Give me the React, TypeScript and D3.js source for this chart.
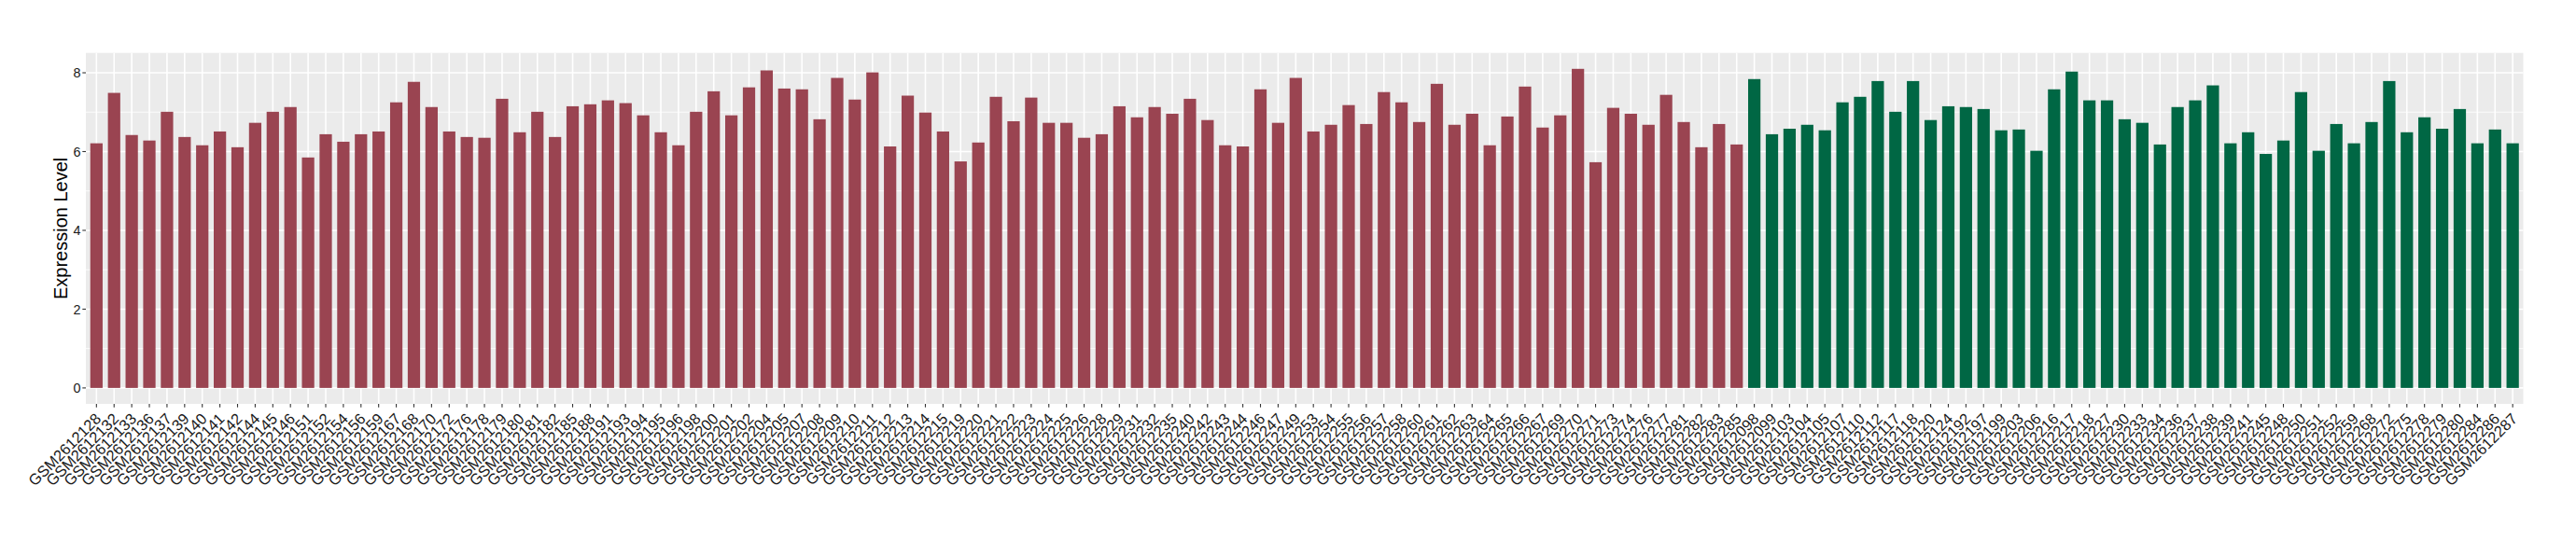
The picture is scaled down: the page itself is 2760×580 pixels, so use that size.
import React from 'react';
import * as d3 from 'd3';

const redSamples = [
  'GSM2612128','GSM2612132','GSM2612133','GSM2612136','GSM2612137','GSM2612139','GSM2612140','GSM2612141','GSM2612142','GSM2612144',
  'GSM2612145','GSM2612146','GSM2612151','GSM2612152','GSM2612154','GSM2612156','GSM2612159','GSM2612167','GSM2612168','GSM2612170',
  'GSM2612172','GSM2612176','GSM2612178','GSM2612179','GSM2612180','GSM2612181','GSM2612182','GSM2612185','GSM2612188','GSM2612191',
  'GSM2612193','GSM2612194','GSM2612195','GSM2612196','GSM2612198','GSM2612200','GSM2612201','GSM2612202','GSM2612204','GSM2612205',
  'GSM2612207','GSM2612208','GSM2612209','GSM2612210','GSM2612211','GSM2612212','GSM2612213','GSM2612214','GSM2612215','GSM2612219',
  'GSM2612220','GSM2612221','GSM2612222','GSM2612223','GSM2612224','GSM2612225','GSM2612226','GSM2612228','GSM2612229','GSM2612231',
  'GSM2612232','GSM2612235','GSM2612240','GSM2612242','GSM2612243','GSM2612244','GSM2612246','GSM2612247','GSM2612249','GSM2612253',
  'GSM2612254','GSM2612255','GSM2612256','GSM2612257','GSM2612258','GSM2612260','GSM2612261','GSM2612262','GSM2612263','GSM2612264',
  'GSM2612265','GSM2612266','GSM2612267','GSM2612269','GSM2612270','GSM2612271','GSM2612273','GSM2612274','GSM2612276','GSM2612277',
  'GSM2612281','GSM2612282','GSM2612283','GSM2612285',
];

const redValues = [
  6.21, 7.49, 6.42, 6.28, 7.01, 6.37, 6.16, 6.51, 6.11, 6.73,
  7.01, 7.13, 5.85, 6.44, 6.25, 6.44, 6.51, 7.25, 7.77, 7.13,
  6.51, 6.37, 6.35, 7.34, 6.49, 7.01, 6.37, 7.15, 7.20, 7.30,
  7.23, 6.92, 6.49, 6.16, 7.01, 7.53, 6.92, 7.63, 8.06, 7.60,
  7.58, 6.82, 7.87, 7.32, 8.01, 6.13, 7.42, 6.99, 6.51, 5.75,
  6.23, 7.39, 6.77, 7.37, 6.73, 6.73, 6.35, 6.44, 7.15, 6.87,
  7.13, 6.96, 7.34, 6.80, 6.16, 6.13, 7.58, 6.73, 7.87, 6.51,
  6.68, 7.18, 6.70, 7.51, 7.25, 6.75, 7.72, 6.68, 6.96, 6.16,
  6.89, 7.65, 6.61, 6.92, 8.10, 5.73, 7.11, 6.96, 6.68, 7.44,
  6.75, 6.11, 6.70, 6.18,
];

const greenSamples = [
  'GSM2612098','GSM2612099','GSM2612103','GSM2612104','GSM2612105','GSM2612107','GSM2612110','GSM2612112','GSM2612117','GSM2612118',
  'GSM2612120','GSM2612124','GSM2612192','GSM2612197','GSM2612199','GSM2612203','GSM2612206','GSM2612216','GSM2612217','GSM2612218',
  'GSM2612227','GSM2612230','GSM2612233','GSM2612234','GSM2612236','GSM2612237','GSM2612238','GSM2612239','GSM2612241','GSM2612245',
  'GSM2612248','GSM2612250','GSM2612251','GSM2612252','GSM2612259','GSM2612268','GSM2612272','GSM2612275','GSM2612278','GSM2612279',
  'GSM2612280','GSM2612284','GSM2612286','GSM2612287',
];

const greenValues = [
  7.84, 6.44, 6.58, 6.68, 6.54, 7.25, 7.39, 7.79, 7.01, 7.79,
  6.80, 7.15, 7.13, 7.08, 6.54, 6.56, 6.02, 7.58, 8.03, 7.30,
  7.30, 6.82, 6.73, 6.18, 7.13, 7.30, 7.68, 6.21, 6.49, 5.94,
  6.28, 7.51, 6.02, 6.70, 6.21, 6.75, 7.79, 6.49, 6.87, 6.58,
  7.08, 6.21, 6.56, 6.21,
];

const yTicks = [0, 2, 4, 6, 8];
const yMinor = [1, 3, 5, 7];

const RED = '#9A4451';
const GREEN = '#006744';

export default function App() {
  const W = 2760;
  const H = 580;
  const left = 92;
  const right = 2703.5;
  const top = 56.7;
  const bottom = 433;

  const data = [
    ...redSamples.map((s, i) => ({ sample: s, value: redValues[i], color: RED })),
    ...greenSamples.map((s, i) => ({ sample: s, value: greenValues[i], color: GREEN })),
  ];

  const x = d3.scalePoint<string>().domain(data.map((d) => d.sample)).range([left, right]).padding(0.6);
  const step = x.step();
  const barW = step * 0.7;
  const maxV = d3.max(data, (d) => d.value) as number;
  const pad = maxV * 0.05;
  const y = d3.scaleLinear().domain([-pad, maxV + pad]).range([bottom, top]);

  const font = "'Liberation Sans', Arial, sans-serif";

  return (
    <svg width={W} height={H} style={{ position: 'absolute', left: 0, top: 0, background: '#fff' }}>
      <rect x={left} y={top} width={right - left} height={bottom - top} fill="#EBEBEB" />
      {yMinor.map((t) => (
        <line key={'mn' + t} x1={left} x2={right} y1={y(t)} y2={y(t)} stroke="#fff" strokeWidth={0.8} />
      ))}
      {yTicks.map((t) => (
        <line key={'mj' + t} x1={left} x2={right} y1={y(t)} y2={y(t)} stroke="#fff" strokeWidth={1.6} />
      ))}
      {data.map((d) => (
        <line key={'vg' + d.sample} x1={x(d.sample)} x2={x(d.sample)} y1={top} y2={bottom} stroke="#fff" strokeWidth={1.6} />
      ))}
      {data.map((d) => (
        <rect
          key={'b' + d.sample}
          x={(x(d.sample) as number) - barW / 2}
          y={y(d.value)}
          width={barW}
          height={y(0) - y(d.value)}
          fill={d.color}
        />
      ))}
      {yTicks.map((t) => (
        <g key={'yt' + t}>
          <line x1={left - 3.7} x2={left} y1={y(t)} y2={y(t)} stroke="#333" strokeWidth={1.1} />
          <text x={left - 5.5} y={y(t)} dy="0.36em" textAnchor="end" fontFamily={font} fontSize={14.4} fill="#1a1a1a">
            {t}
          </text>
        </g>
      ))}
      {data.map((d) => {
        const tx = x(d.sample) as number;
        return (
          <g key={'xt' + d.sample}>
            <line x1={tx} x2={tx} y1={bottom} y2={bottom + 3.7} stroke="#333" strokeWidth={1.1} />
            <text
              transform={`translate(${tx + 6},${bottom + 17}) rotate(-45)`}
              textAnchor="end"
              fontFamily={font}
              fontSize={16.5}
              fill="#1a1a1a"
            >
              {d.sample}
            </text>
          </g>
        );
      })}
      <text
        transform={`translate(72.3,${(top + bottom) / 2}) rotate(-90)`}
        textAnchor="middle"
        fontFamily={font}
        fontSize={20}
        fill="#000"
      >
        Expression Level
      </text>
    </svg>
  );
}
